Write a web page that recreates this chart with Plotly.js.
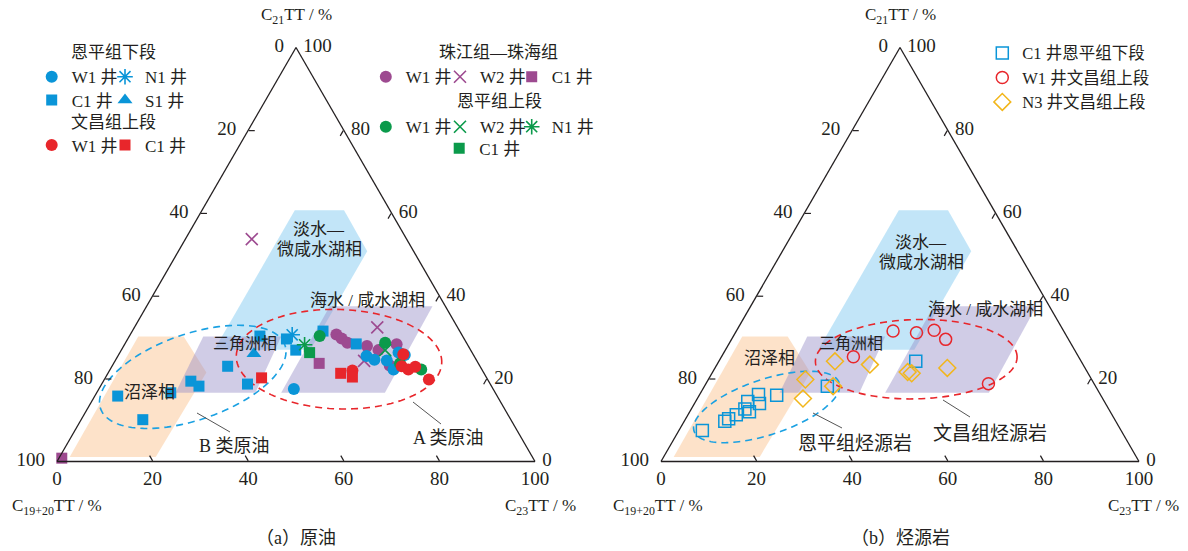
<!DOCTYPE html>
<html>
<head>
<meta charset="utf-8">
<script src="https://cdn.plot.ly/plotly-3.0.1.min.js"></script>
<style>
  html, body { margin: 0; padding: 0; background: #fff; }
  #chart { width: 1188px; height: 551px; }
</style>
</head>
<body>
<div id="chart"></div>
<script>
// Tricyclic terpane ternary diagrams: C21TT (apex), C19+20TT (lower left), C23TT (lower right).
// Every sample is given as C21TT % and C23TT %; C19+20TT is the remainder to 100.

// ---------- (a) crude oils ----------
// 恩平组下段
const enpLowW1_C21 = [17.5, 25.5, 24.6, 24.4, 26.3, 25.7, 22.2];
const enpLowW1_C23 = [40.8, 52.0, 54.1, 56.8, 58.3, 59.9, 59.3];
const enpLowN1_C21 = [30.6];
const enpLowN1_C23 = [33.9];
const enpLowC1_C21 = [15.8, 10.1, 16.6, 19.4, 18.2, 23.0, 18.7, 30.3, 29.6, 26.9, 31.5, 28.4];
const enpLowC1_C23 = [4.8, 12.9, 15.5, 18.3, 20.6, 24.2, 30.5, 27.3, 33.2, 36.5, 39.9, 48.4];
const enpLowS1_C21 = [26.0];
const enpLowS1_C23 = [28.2];
// 文昌组上段
const wcUpW1_C21 = [25.9, 23.0, 22.2, 22.9, 19.8, 22.0];
const wcUpW1_C23 = [59.5, 60.6, 62.4, 63.5, 67.9, 50.8];
const wcUpC1_C21 = [20.2, 21.3, 20.4];
const wcUpC1_C23 = [32.7, 48.7, 51.6];
// 珠江组—珠海组
const zjW1_C21 = [30.7, 29.7, 28.7, 27.9, 26.9, 28.3, 23.2];
const zjW1_C23 = [43.1, 44.7, 46.4, 50.9, 53.8, 56.9, 58.0];
const zjW2_C21 = [53.7, 32.4, 24.3];
const zjW2_C23 = [13.9, 50.8, 52.1];
const zjC1_C21 = [0.8, 23.7];
const zjC1_C23 = [0.6, 43.0];
// 恩平组上段
const enpUpW1_C21 = [30.3, 28.7, 23.7, 22.2];
const enpUpW1_C23 = [39.8, 54.3, 59.9, 65.1];
const enpUpW2_C21 = [26.9];
const enpUpW2_C23 = [55.2];
const enpUpN1_C21 = [28.2];
const enpUpN1_C23 = [37.7];
const enpUpC1_C21 = [26.3];
const enpUpC1_C23 = [39.7];

// ---------- (b) source rocks ----------
const srcC1_C21 = [7.5, 9.7, 10.3, 11.3, 12.7, 14.5, 12.0, 14.0, 16.2, 16.0, 18.2, 24.2];
const srcC1_C23 = [4.9, 8.5, 9.0, 10.1, 11.2, 10.9, 12.5, 13.6, 12.3, 16.2, 25.7, 41.2];
const srcW1_C21 = [25.3, 31.5, 31.1, 31.7, 29.5, 18.8];
const srcW1_C23 = [27.6, 32.8, 37.9, 41.3, 44.8, 59.1];
const srcN3_C21 = [15.2, 19.8, 24.2, 18.2, 23.4, 21.6, 21.3, 22.6];
const srcN3_C23 = [22.1, 20.3, 24.3, 26.9, 32.0, 40.8, 41.8, 48.6];

// ---------- facies fields (vertices as C21TT %, C23TT %) ----------
const swampC21 = [30.2, 30.2, 21.5, 1.1, 1.1];
const swampC23 = [1.9, 11.4, 20.5, 20.1, 2.1];
const freshC21 = [60.7, 60.7, 50.8, 27.0, 27.0];
const freshC23 = [19.4, 29.7, 39.5, 39.5, 19.4];
const deltaC21 = [30.2, 30.2, 16.6, 16.6];
const deltaC23 = [15.5, 31.8, 33.2, 16.5];
const marineC21 = [37.5, 37.5, 16.6, 16.6];
const marineC23 = [38.3, 59.8, 60.3, 38.6];

// axis tick labels
const tickVals = [0, 20, 40, 60, 80, 100];
const tickText = ['100', '80', '60', '40', '20', '0'];

// ---------- styling ----------
const INK = '#231f20';
const FONT = 'Liberation Serif, "Noto Sans CJK SC", serif';
const BLUE = '#0a95d8', RED = '#e8262b', PURPLE = '#9d4a90', GREEN = '#0b9a4b', YELLOW = '#f2b61b';
const W = 1188, H = 551;
const px = x => x / W;
const py = y => 1 - y / H;
const NB = '\u00a0';

function ternPts(c21, c23) {
  return { a: c21, c: c23, b: c21.map((v, i) => 100 - v - c23[i]) };
}

function field(c21, c23, fill, subplot) {
  const p = ternPts(c21.concat([c21[0]]), c23.concat([c23[0]]));
  return Object.assign(p, {
    type: 'scatterternary', subplot: subplot, mode: 'lines', fill: 'toself',
    fillcolor: fill, line: { width: 0, color: 'rgba(0,0,0,0)' },
    showlegend: false, hoverinfo: 'skip'
  });
}

// dashed ellipse given in triangle cartesian units (base = 100)
function ellipse(geom, color, subplot) {
  const [cx, cy, ra, rb, deg] = geom;
  const t = deg * Math.PI / 180, k = Math.sqrt(3) / 2;
  const A = [], B = [], C = [];
  for (let i = 0; i <= 160; i++) {
    const u = 2 * Math.PI * i / 160;
    const X = cx + ra * Math.cos(u) * Math.cos(t) - rb * Math.sin(u) * Math.sin(t);
    const Y = cy + ra * Math.cos(u) * Math.sin(t) + rb * Math.sin(u) * Math.cos(t);
    const c21 = Y / k, c23 = X - c21 / 2;
    A.push(c21); C.push(c23); B.push(100 - c21 - c23);
  }
  return { type: 'scatterternary', subplot: subplot, a: A, b: B, c: C, mode: 'lines',
    line: { color: color, width: 1.6, dash: '7px,5px' }, showlegend: false, hoverinfo: 'skip' };
}

function pts(c21, c23, name, legend, symbol, color, size, subplot, lineW) {
  const p = ternPts(c21, c23);
  return Object.assign(p, {
    type: 'scatterternary', subplot: subplot || 'ternary', mode: 'markers', name: name,
    legend: legend, cliponaxis: false, hoverinfo: 'skip',
    marker: { symbol: symbol, color: color, size: size,
      line: { width: lineW || 0, color: color } }
  });
}

const FILL_SWAMP = 'rgba(250,190,135,0.45)';
const FILL_FRESH = 'rgba(128,200,240,0.48)';
const FILL_PURP = 'rgba(150,142,200,0.45)';

const ellOilB = [28.4, 17.7, 20.4, 9.0, 19];
const ellOilA = [59.0, 21.4, 21.5, 10.4, -2];
const ellSrcE = [22.1, 11.4, 16.0, 5.8, 18.4];
const ellSrcW = [53.4, 21.4, 21.1, 8.3, 1.5];

const traces = [];
['ternary', 'ternary2'].forEach(sp => {
  traces.push(field(swampC21, swampC23, FILL_SWAMP, sp));
  traces.push(field(freshC21, freshC23, FILL_FRESH, sp));
  traces.push(field(deltaC21, deltaC23, FILL_PURP, sp));
  traces.push(field(marineC21, marineC23, FILL_PURP, sp));
});
traces.push(ellipse(ellOilB, '#1ba1e2', 'ternary'));
traces.push(ellipse(ellOilA, RED, 'ternary'));
traces.push(ellipse(ellSrcE, '#1ba1e2', 'ternary2'));
traces.push(ellipse(ellSrcW, RED, 'ternary2'));

// (a) crude oil samples, each key in its own legend box
traces.push(pts(zjW1_C21, zjW1_C23, 'W1 井', 'legend7', 'circle', PURPLE, 12));
traces.push(pts(zjW2_C21, zjW2_C23, 'W2 井', 'legend8', 'x-thin-open', PURPLE, 12, 'ternary', 1.6));
traces.push(pts(zjC1_C21, zjC1_C23, 'C1 井', 'legend9', 'square', PURPLE, 11));
traces.push(pts(enpLowW1_C21, enpLowW1_C23, 'W1 井', 'legend', 'circle', BLUE, 12));
traces.push(pts(enpLowN1_C21, enpLowN1_C23, 'N1 井', 'legend2', 'asterisk-open', BLUE, 13, 'ternary', 1.6));
traces.push(pts(enpLowC1_C21, enpLowC1_C23, 'C1 井', 'legend3', 'square', BLUE, 11));
traces.push(pts(enpLowS1_C21, enpLowS1_C23, 'S1 井', 'legend4', 'triangle-up', BLUE, 13));
traces.push(pts(enpUpW1_C21, enpUpW1_C23, 'W1 井', 'legend10', 'circle', GREEN, 12));
traces.push(pts(enpUpW2_C21, enpUpW2_C23, 'W2 井', 'legend11', 'x-thin-open', GREEN, 12, 'ternary', 1.6));
traces.push(pts(enpUpN1_C21, enpUpN1_C23, 'N1 井', 'legend12', 'asterisk-open', GREEN, 13, 'ternary', 1.6));
traces.push(pts(enpUpC1_C21, enpUpC1_C23, 'C1 井', 'legend13', 'square', GREEN, 11));
traces.push(pts(wcUpW1_C21, wcUpW1_C23, 'W1 井', 'legend5', 'circle', RED, 12));
traces.push(pts(wcUpC1_C21, wcUpC1_C23, 'C1 井', 'legend6', 'square', RED, 11));

// (b) source rock samples
traces.push(pts(srcC1_C21, srcC1_C23, 'C1 井恩平组下段', 'legend14', 'square-open', BLUE, 12, 'ternary2', 1.5));
traces.push(pts(srcW1_C21, srcW1_C23, 'W1 井文昌组上段', 'legend14', 'circle-open', RED, 12, 'ternary2', 1.5));
traces.push(pts(srcN3_C21, srcN3_C23, 'N3 井文昌组上段', 'legend14', 'diamond-open', YELLOW, 13, 'ternary2', 1.5));

function axis(prefix, suffix) {
  return {
    min: 0, tickmode: 'array', tickvals: tickVals,
    ticktext: tickText.map(s => prefix + s + suffix),
    ticks: 'inside', ticklen: 6, tickwidth: 1.2, tickcolor: INK,
    showline: true, linecolor: INK, linewidth: 1.3, showgrid: false,
    tickfont: { family: FONT, size: 19, color: INK }, title: { text: '' }
  };
}
function tern(x0, x1) {
  const yc = py((461.5 + 47.5) / 2);
  return { sum: 100, bgcolor: 'rgba(0,0,0,0)',
    domain: { x: [px(x0), px(x1)], y: [yc - 0.38, yc + 0.38] },
    aaxis: axis('', NB + NB), baxis: axis('', ''), caxis: axis(NB, '') };
}

// one legend key: symbol centred at (sx, cy) in pixels
function keyLegend(sx, cy, size, vertical) {
  const fs = size || 17;
  const h = fs * 1.3 + 3;
  return { x: px(sx - 20), y: py(cy - 5 - h / 2), xanchor: 'left', yanchor: 'top',
    orientation: vertical ? 'v' : 'h',
    bgcolor: 'rgba(0,0,0,0)', borderwidth: 0, traceorder: 'normal',
    font: { family: FONT, size: fs, color: INK } };
}

function txt(x, y, text, size, extra) {
  return Object.assign({ xref: 'paper', yref: 'paper', x: px(x), y: py(y), text: text,
    showarrow: false, xanchor: 'center', yanchor: 'middle',
    font: { family: FONT, size: size, color: INK } }, extra || {});
}

const annotations = [
  // (a)
  txt(296, 16, 'C<sub>21</sub>TT / %', 17),
  txt(57, 507, 'C<sub>19+20</sub>TT / %', 17),
  txt(540, 507, 'C<sub>23</sub>TT / %', 17),
  txt(296, 538, '（a）原油', 18),
  txt(319, 230, '淡水—', 17),
  txt(319, 250, '微咸水湖相', 17),
  txt(367, 300, '海水 / 咸水湖相', 17),
  txt(245, 343, '三角洲相', 16),
  txt(149, 393, '沼泽相', 17),
  txt(234, 446, 'B 类原油', 18),
  txt(448, 438, 'A 类原油', 18),
  txt(113, 53, '恩平组下段', 17),
  txt(113, 123, '文昌组上段', 17),
  txt(498, 52, '珠江组—珠海组', 17),
  txt(499, 102, '恩平组上段', 17),
  // (b)
  txt(900, 16, 'C<sub>21</sub>TT / %', 17),
  txt(658, 507, 'C<sub>19+20</sub>TT / %', 17),
  txt(1143, 507, 'C<sub>23</sub>TT / %', 17),
  txt(900, 538, '（b）烃源岩', 18),
  txt(921, 242, '淡水—', 17),
  txt(921, 262, '微咸水湖相', 17),
  txt(985, 309, '海水 / 咸水湖相', 17),
  txt(851, 343, '三角洲相', 16),
  txt(769, 358, '沼泽相', 17),
  txt(855, 443, '恩平组烃源岩', 19),
  txt(990, 433, '文昌组烃源岩', 19)
];

function leader(x0, y0, x1, y1) {
  return { type: 'line', xref: 'paper', yref: 'paper', x0: px(x0), y0: py(y0), x1: px(x1), y1: py(y1),
    line: { color: '#555', width: 1 } };
}
const shapes = [
  leader(197, 413, 230, 432),
  leader(413, 402, 441, 424),
  leader(813, 413, 842, 428),
  leader(943, 400, 970, 417)
];

const layout = {
  width: W, height: H,
  margin: { l: 0, r: 0, t: 0, b: 0 },
  paper_bgcolor: '#fff',
  font: { family: FONT, color: INK },
  hovermode: false,
  ternary: tern(57, 535),
  ternary2: tern(661, 1139),
  // 恩平组下段 / 文昌组上段 keys
  legend: keyLegend(51.7, 76.7),
  legend2: keyLegend(125, 76.7),
  legend3: keyLegend(51.7, 100),
  legend4: keyLegend(125, 100),
  legend5: keyLegend(51.7, 145),
  legend6: keyLegend(125, 145),
  // 珠江组—珠海组 / 恩平组上段 keys
  legend7: keyLegend(385.8, 76.7),
  legend8: keyLegend(460, 76.7),
  legend9: keyLegend(531.7, 76.7),
  legend10: keyLegend(385.8, 126.7),
  legend11: keyLegend(460, 126.7),
  legend12: keyLegend(531.7, 126.7),
  legend13: keyLegend(459.2, 148.3),
  // source rock keys
  legend14: keyLegend(1002.3, 53, 16.5, true),
  annotations: annotations,
  shapes: shapes
};

Plotly.newPlot('chart', traces, layout, { displayModeBar: false, staticPlot: true });
</script>
</body>
</html>
